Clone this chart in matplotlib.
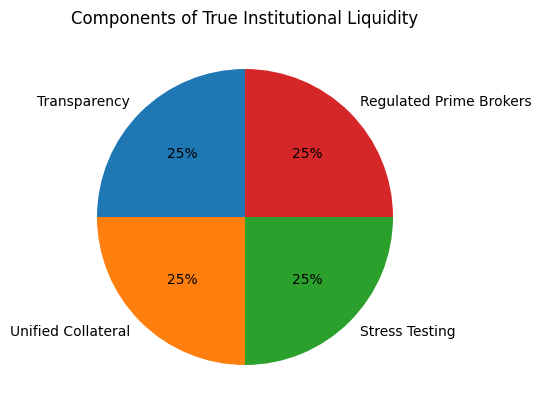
import matplotlib
matplotlib.use("Agg")
import matplotlib.pyplot as plt

labels = ["Transparency", "Unified Collateral", "Stress Testing", "Regulated Prime Brokers"]
shares = [25, 25, 25, 25]

fig = plt.figure(figsize=(5.41, 4.11), dpi=100)
ax = fig.add_axes([60 / 541, 9 / 411, 370 / 541, 370 / 411])
ax.pie(shares, labels=labels, autopct="%1.0f%%", startangle=90)
ax.set_title("Components of True Institutional Liquidity")
fig.savefig("out.png", dpi=100)
